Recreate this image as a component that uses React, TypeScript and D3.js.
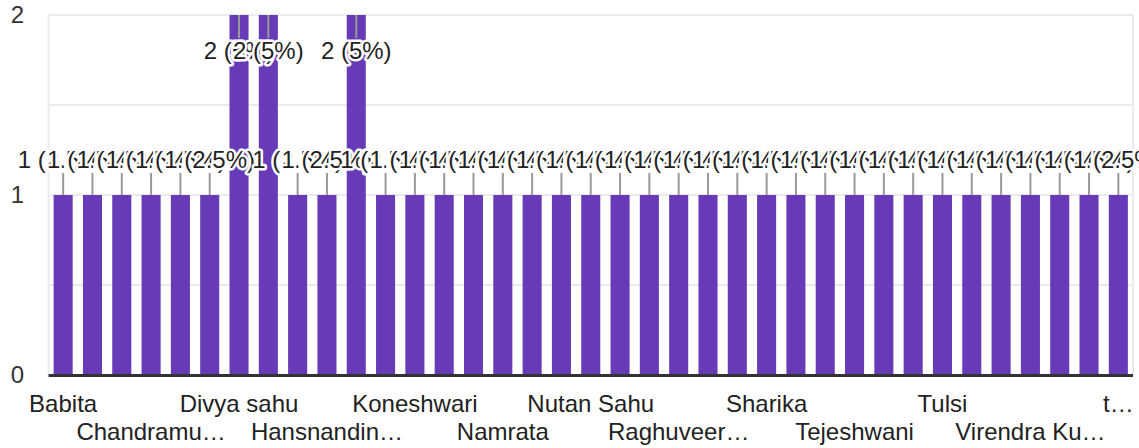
import {useEffect, useRef} from "react";
import * as d3 from "d3";

// Names as they are shown on the axis; the ones google hid are left blank
const categories: string[] = [
    "Babita", "", "", "Chandramu…", "", "", "Divya sahu", "", "", "Hansnandin…",
    "", "", "Koneshwari", "", "", "Namrata", "", "", "Nutan Sahu", "", "",
    "Raghuveer…", "", "", "Sharika", "", "", "Tejeshwani", "", "", "Tulsi",
    "", "", "Virendra Ku…", "", "", "t…"
];

const values: number[] = [
    1, 1, 1, 1, 1, 1, 2, 2, 1, 1, 2, 1, 1, 1, 1, 1, 1, 1, 1, 1, 1,
    1, 1, 1, 1, 1, 1, 1, 1, 1, 1, 1, 1, 1, 1, 1, 1
];

const yTicks: number[] = [0, 1, 2];
const gridTicks: number[] = [0.5, 1, 1.5, 2];

const W = 1139, H = 448;
const FONT = "'Liberation Sans', Arial, sans-serif";

const App = () => {
    const ref = useRef<SVGSVGElement>(null);

    useEffect(() => {
        if (!ref.current) return;
        const svg = d3.select(ref.current);
        svg.selectAll("*").remove();

        const left = 48.5, right = 1133, top = 15, bottom = 375;
        const total = d3.sum(values);

        const x = d3.scaleBand<number>()
            .domain(values.map((_, i) => i))
            .range([left, right])
            .paddingInner(0.35)
            .paddingOuter(0.175);

        const y = d3.scaleLinear().domain([0, 2]).range([bottom, top]);

        // grid + frame
        svg.append("g").selectAll("line")
            .data(gridTicks)
            .enter().append("line")
            .attr("x1", left).attr("x2", right)
            .attr("y1", d => y(d)).attr("y2", d => y(d))
            .attr("stroke", "#ebebeb").attr("stroke-width", 2);
        svg.append("line").attr("x1", left).attr("x2", left).attr("y1", top).attr("y2", bottom)
            .attr("stroke", "#ebebeb").attr("stroke-width", 2);
        svg.append("line").attr("x1", right).attr("x2", right).attr("y1", top).attr("y2", bottom)
            .attr("stroke", "#ebebeb").attr("stroke-width", 2);

        // y labels
        svg.append("g").selectAll("text")
            .data(yTicks)
            .enter().append("text")
            .attr("x", 24)
            .attr("y", d => y(d) + 8)
            .attr("text-anchor", "end")
            .attr("font-family", FONT).attr("font-size", 24).attr("fill", "#333")
            .text(d => d);

        // bars
        svg.append("g").selectAll("rect")
            .data(values)
            .enter().append("rect")
            .attr("x", (_, i) => x(i)!)
            .attr("y", d => y(d))
            .attr("width", x.bandwidth())
            .attr("height", d => bottom - y(d))
            .attr("fill", "#673ab7");

        // baseline
        svg.append("line")
            .attr("x1", left).attr("x2", right)
            .attr("y1", bottom + 0.5).attr("y2", bottom + 0.5)
            .attr("stroke", "#333").attr("stroke-width", 3);

        // annotation stems
        const cx = (i: number) => x(i)! + x.bandwidth() / 2;
        const atTop = (d: number) => d >= 2;
        svg.append("g").selectAll("line")
            .data(values)
            .enter().append("line")
            .attr("x1", (_, i) => cx(i)).attr("x2", (_, i) => cx(i))
            .attr("y1", d => y(d))
            .attr("y2", d => atTop(d) ? y(d) + 23 : y(d) - 22)
            .attr("stroke", "#999").attr("stroke-width", 2);

        // annotation labels, later ones painted over earlier
        const fmt = (d: number) => `${d} (${d3.format(".3~")(d / total * 100)}%)`;
        svg.append("g").selectAll("text")
            .data(values)
            .enter().append("text")
            .attr("x", (_, i) => cx(i))
            .attr("y", d => atTop(d) ? y(d) + 44 : y(d) - 27)
            .attr("text-anchor", "middle")
            .attr("font-family", FONT).attr("font-size", 24)
            .attr("fill", "#222")
            .attr("stroke", "#fff").attr("stroke-width", 5)
            .attr("stroke-linejoin", "round")
            .attr("paint-order", "stroke")
            .text(d => fmt(d));

        // x labels, two rows
        svg.append("g").selectAll("text")
            .data(categories)
            .enter().append("text")
            .attr("x", (_, i) => cx(i))
            .attr("y", (_, i) => (i / 3) % 2 === 0 ? 412 : 440)
            .attr("text-anchor", "middle")
            .attr("font-family", FONT).attr("font-size", 24).attr("fill", "#222")
            .text(d => d);
    }, []);

    return (
        <svg ref={ref} width={W} height={H}
             style={{position: "absolute", left: 0, top: 0, background: "#fff"}}/>
    );
};

export default App;
